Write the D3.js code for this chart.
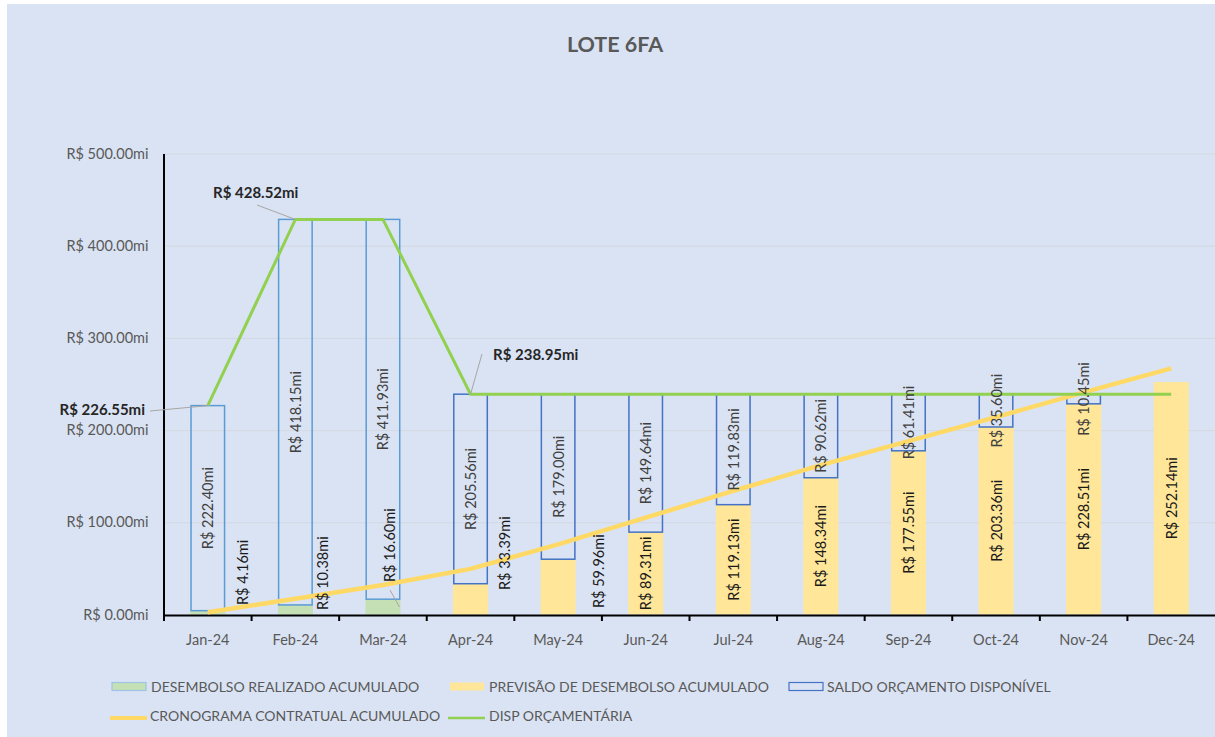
<!DOCTYPE html>
<html><head><meta charset="utf-8">
<script src="https://cdn.jsdelivr.net/npm/d3@7"></script>
<style>
html,body{margin:0;padding:0;background:#fff;}
svg{display:block;font-family:Lato,"Open Sans",sans-serif;}
</style></head>
<body>
<svg id="chart" width="1215" height="737"></svg>
<script>
// ---- data ----
const months = ["Jan-24","Feb-24","Mar-24","Apr-24","May-24","Jun-24","Jul-24","Aug-24","Sep-24","Oct-24","Nov-24","Dec-24"];
const realizado = [4.16, 10.38, 16.60, null, null, null, null, null, null, null, null, null];
const previsao = [null, null, null, 33.39, 59.96, 89.31, 119.13, 148.34, 177.55, 203.36, 228.51, 252.14];
const saldo = [222.40, 418.15, 411.93, 205.56, 179.00, 149.64, 119.83, 90.62, 61.41, 35.60, 10.45, null];
const dispOrc = [226.55, 428.52, 428.52, 238.95, 238.95, 238.95, 238.95, 238.95, 238.95, 238.95, 238.95, 238.95];
const cronograma = [2.5, 17, 32, 49.5, 76, 105, 134, 162, 188, 214, 241, 267];
const yTicks = [0, 100, 200, 300, 400, 500];
const calloutIdx = [0, 1, 3]; // points of DISP ORÇAMENTÁRIA with labels

// ---- layout ----
const svg = d3.select("#chart");
const W = 1215, H = 737;
const FS = 14.5;
const x = d3.scaleBand().domain(months).range([164, 1215]).paddingInner(0.6).paddingOuter(0.3);
const y = d3.scaleLinear().domain([0, 500]).range([614.5, 153.5]);
const fmt = v => "R$ " + d3.format(".2f")(v) + "mi";
const cx = i => x(months[i]) + x.bandwidth() / 2;

svg.append("rect").attr("x", 7).attr("y", 4).attr("width", W - 7).attr("height", H - 4).attr("fill", "#DAE3F3");

svg.append("text").attr("x", 615).attr("y", 52).attr("text-anchor", "middle")
  .attr("font-size", 21.5).attr("font-weight", "bold").attr("fill", "#595959").text("LOTE 6FA");

// gridlines
const grid = svg.append("g").attr("transform", "translate(164,0)")
  .call(d3.axisLeft(y).tickValues(yTicks).tickSize(-1051).tickFormat(""));
grid.select(".domain").remove();
grid.selectAll(".tick line").attr("stroke", "#D3D8E0").attr("stroke-width", 1);
grid.selectAll(".tick").filter(d => d === 0).remove();

// y axis
const yAx = svg.append("g").attr("transform", "translate(163.5,0)")
  .call(d3.axisLeft(y).tickValues(yTicks).tickSize(0).tickPadding(15).tickFormat(fmt));
yAx.select(".domain").attr("stroke", "#000").attr("stroke-width", 2);
yAx.selectAll("text").attr("font-size", FS).attr("fill", "#595959").attr("font-family", "Lato");

// bars
const bars = svg.append("g");
bars.selectAll("rect.real").data(months.map((m, i) => ({m, v: realizado[i]})).filter(d => d.v != null))
  .join("rect").attr("x", d => x(d.m)).attr("width", x.bandwidth())
  .attr("y", d => y(d.v)).attr("height", d => y(0) - y(d.v)).attr("fill", "#C5E0B4");
bars.selectAll("rect.prev").data(months.map((m, i) => ({m, v: previsao[i]})).filter(d => d.v != null))
  .join("rect").attr("x", d => x(d.m)).attr("width", x.bandwidth())
  .attr("y", d => y(d.v)).attr("height", d => y(0) - y(d.v)).attr("fill", "#FFE699");
const saldoData = months.map((m, i) => ({m, i, base: (realizado[i] ?? previsao[i] ?? 0), v: saldo[i]})).filter(d => d.v != null);
bars.selectAll("rect.saldo").data(saldoData)
  .join("rect").attr("x", d => x(d.m) + 0.75).attr("width", x.bandwidth() - 1.5)
  .attr("y", d => y(d.base + d.v)).attr("height", d => y(d.base) - y(d.base + d.v))
  .attr("fill", "none").attr("stroke", d => d.i < 3 ? "#5B9BD5" : "#4472C4").attr("stroke-width", 1.5);

// x axis
const xAx = svg.append("g").attr("transform", "translate(0,615)")
  .call(d3.axisBottom(x).tickSize(0).tickPadding(20).tickSizeOuter(0));
xAx.select(".domain").attr("stroke", "#000").attr("stroke-width", 2);
xAx.selectAll("text").attr("font-size", FS).attr("fill", "#595959").attr("font-family", "Lato");
const boundaries = months.map(m => x(m) - x.step() * 0.3);
svg.append("g").selectAll("line").data(boundaries).join("line")
  .attr("x1", d => d).attr("x2", d => d).attr("y1", 615).attr("y2", 621)
  .attr("stroke", "#000").attr("stroke-width", 2);

// lines
const lineGen = d3.line().x((d, i) => cx(i)).y(d => y(d));
svg.append("path").attr("d", lineGen(cronograma)).attr("fill", "none")
  .attr("stroke", "#FFD966").attr("stroke-width", 4.5);
svg.append("path").attr("d", lineGen(dispOrc)).attr("fill", "none")
  .attr("stroke", "#92D050").attr("stroke-width", 3);

// saldo labels (centered in segment)
const lab = svg.append("g").attr("font-size", FS).attr("font-family", "Lato");
lab.selectAll("text.s").data(saldoData).join("text")
  .attr("transform", d => `translate(${cx(d.i)},${y(d.base + d.v / 2)}) rotate(-90)`)
  .attr("text-anchor", "middle").attr("dominant-baseline", "central")
  .attr("fill", "#404040").text(d => fmt(d.v));

// bottom-segment labels
// manual nudges (label placement, like the original's dragged labels): [dx from bar center, bottom y]
const outsideNudge = {0: [35, 605], 1: [27, 610], 2: [7, 582], 3: [34, 590], 4: [40, 608]};
const bottomData = months.map((m, i) => ({i, v: realizado[i] ?? previsao[i]})).filter(d => d.v != null);
lab.selectAll("text.b").data(bottomData).join("text")
  .attr("transform", d => outsideNudge[d.i]
      ? `translate(${cx(d.i) + outsideNudge[d.i][0]},${outsideNudge[d.i][1]}) rotate(-90)`
      : `translate(${cx(d.i)},${y(d.v / 2)}) rotate(-90)`)
  .attr("text-anchor", d => outsideNudge[d.i] ? "start" : "middle")
  .attr("dominant-baseline", "central")
  .attr("fill", "#1a1a1a").text(d => fmt(d.v));
// leader for Mar label
svg.append("line").attr("x1", cx(2) + 7).attr("y1", 590).attr("x2", x(months[2]) + x.bandwidth() - 1).attr("y2", 607)
  .attr("stroke", "#A6A6A6").attr("stroke-width", 1);

// DISP ORÇAMENTÁRIA callouts
const callPos = {0: [145, 409, "end", 150, 411], 1: [213, 192, "start", 257, 205], 3: [493, 354, "start", 482, 354]};
calloutIdx.forEach(i => {
  const [tx, ty, anc, lx, ly] = callPos[i];
  svg.append("line").attr("x1", lx).attr("y1", ly).attr("x2", cx(i)).attr("y2", y(dispOrc[i]))
    .attr("stroke", "#A6A6A6").attr("stroke-width", 1);
  svg.append("text").attr("x", tx).attr("y", ty).attr("text-anchor", anc).attr("dominant-baseline", "central")
    .attr("font-size", 15).attr("font-weight", "bold").attr("fill", "#262626").text(fmt(dispOrc[i]));
});

// legend
const leg = svg.append("g").attr("font-size", 14).attr("fill", "#595959");
const legendItems = [
  {t: "DESEMBOLSO REALIZADO ACUMULADO", kind: "rect", fill: "#C5E0B4", stroke: "#9DC3E6", x: 112, y: 686, tx: 151},
  {t: "PREVISÃO DE DESEMBOLSO ACUMULADO", kind: "rect", fill: "#FFE699", stroke: "none", x: 450, y: 686, tx: 489},
  {t: "SALDO ORÇAMENTO DISPONÍVEL", kind: "rect", fill: "none", stroke: "#4472C4", x: 789, y: 686, tx: 827},
  {t: "CRONOGRAMA CONTRATUAL ACUMULADO", kind: "line", stroke: "#FFD966", w: 4, x: 110, y: 715, tx: 150},
  {t: "DISP ORÇAMENTÁRIA", kind: "line", stroke: "#92D050", w: 2.5, x: 448, y: 715, tx: 489}
];
legendItems.forEach(d => {
  if (d.kind === "rect") {
    leg.append("rect").attr("x", d.x).attr("y", d.y - 3.5).attr("width", 34).attr("height", 8)
      .attr("fill", d.fill).attr("stroke", d.stroke).attr("stroke-width", 1.2);
  } else {
    leg.append("line").attr("x1", d.x).attr("x2", d.x + 37).attr("y1", d.y + 3).attr("y2", d.y + 3)
      .attr("stroke", d.stroke).attr("stroke-width", d.w);
  }
  leg.append("text").attr("x", d.tx).attr("y", d.y).attr("dominant-baseline", "central").text(d.t);
});
</script>
</body></html>
